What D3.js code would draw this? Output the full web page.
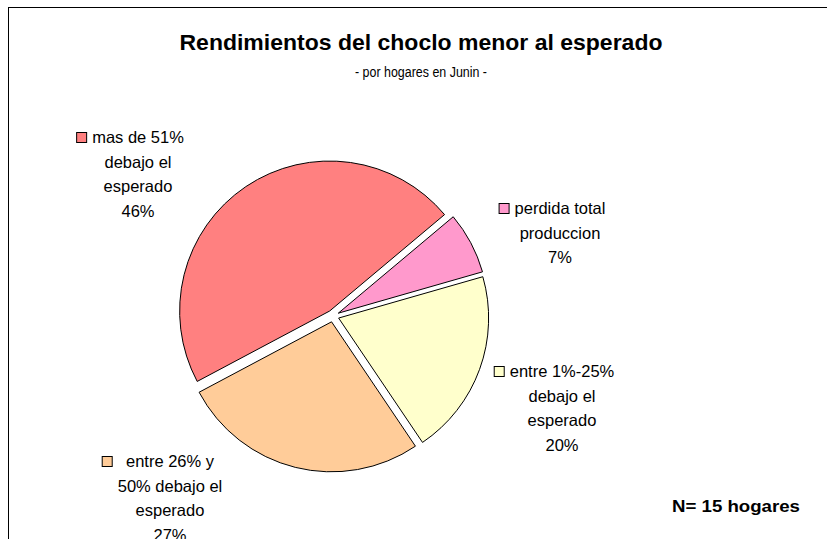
<!DOCTYPE html>
<html>
<head>
<meta charset="utf-8">
<script src="https://cdn.jsdelivr.net/npm/d3@7"></script>
<style>
  body { margin: 0; background: #fff; }
  text { font-family: "Liberation Sans", Arial, sans-serif; fill: #000; }
</style>
</head>
<body>
<div id="wrapper"></div>
<script>
// data
const categories = ["perdida total", "entre 1%-25%", "entre 26%-50%", "mas de 51%"]
const hogares = [1, 3, 4, 7]
const percentLabels = ["7%", "20%", "27%", "46%"]
const labelLines = [
  ["perdida total", "produccion"],
  ["entre 1%-25%", "debajo el", "esperado"],
  ["entre 26% y", "50% debajo el", "esperado"],
  ["mas de 51%", "debajo el", "esperado"],
]
const colors = ["#FF99CC", "#FFFFCC", "#FFCC99", "#FF8080"]

// layout
const dimensions = { width: 827, height: 539 }
const pieCenter = { x: 333, y: 316 }
const radius = 150
const explode = 6
const startDeg = 50
const labelAnchors = [
  { x: 560, y: 214 },
  { x: 562, y: 377 },
  { x: 170, y: 467 },
  { x: 138, y: 143 },
]
const lineHeight = 24.5

const svg = d3.select("#wrapper")
  .append("svg")
  .attr("width", dimensions.width)
  .attr("height", dimensions.height)

// chart frame (runs off the right and bottom)
svg.append("rect")
  .attr("x", 8.5)
  .attr("y", 7.5)
  .attr("width", 900)
  .attr("height", 600)
  .attr("fill", "none")
  .attr("stroke", "#000")
  .attr("stroke-width", 1)

svg.append("text")
  .attr("x", 421)
  .attr("y", 50)
  .attr("text-anchor", "middle")
  .attr("textLength", 483)
  .attr("lengthAdjust", "spacingAndGlyphs")
  .style("font-size", "22.5px")
  .style("font-weight", "bold")
  .text("Rendimientos del choclo menor al esperado")

svg.append("text")
  .attr("x", 421)
  .attr("y", 77)
  .attr("text-anchor", "middle")
  .attr("textLength", 132)
  .attr("lengthAdjust", "spacingAndGlyphs")
  .style("font-size", "15.5px")
  .text("- por hogares en Junin -")

const pie = d3.pie()
  .sort(null)
  .startAngle(startDeg * Math.PI / 180)
  .endAngle(startDeg * Math.PI / 180 + 2 * Math.PI)
const arcs = pie(hogares)

const arcGenerator = d3.arc()
  .innerRadius(0)
  .outerRadius(radius)

const bounds = svg.append("g")
  .attr("transform", `translate(${pieCenter.x}, ${pieCenter.y})`)

bounds.selectAll("path")
  .data(arcs)
  .enter().append("path")
  .attr("d", arcGenerator)
  .attr("transform", d => {
    const mid = (d.startAngle + d.endAngle) / 2
    return `translate(${Math.sin(mid) * explode}, ${-Math.cos(mid) * explode})`
  })
  .attr("fill", (d, i) => colors[i])
  .attr("stroke", "#000")
  .attr("stroke-width", 1)

// data labels with legend key
arcs.forEach((d, i) => {
  const lines = labelLines[i].concat([percentLabels[i]])
  const anchor = labelAnchors[i]
  const g = svg.append("g")
  const texts = g.selectAll("text")
    .data(lines)
    .enter().append("text")
    .attr("x", anchor.x)
    .attr("y", (t, j) => anchor.y + j * lineHeight)
    .attr("text-anchor", "middle")
    .style("font-size", "16.5px")
    .text(t => t)
  const widest = d3.max(texts.nodes(), n => n.getComputedTextLength())
  g.append("rect")
    .attr("x", anchor.x - widest / 2 - 15.5)
    .attr("y", anchor.y - 10.5)
    .attr("width", 10)
    .attr("height", 10)
    .attr("fill", colors[i])
    .attr("stroke", "#000")
    .attr("stroke-width", 1)
})

svg.append("text")
  .attr("x", 672)
  .attr("y", 512)
  .attr("textLength", 128)
  .attr("lengthAdjust", "spacingAndGlyphs")
  .style("font-size", "17px")
  .style("font-weight", "bold")
  .text("N= 15 hogares")
</script>
</body>
</html>
